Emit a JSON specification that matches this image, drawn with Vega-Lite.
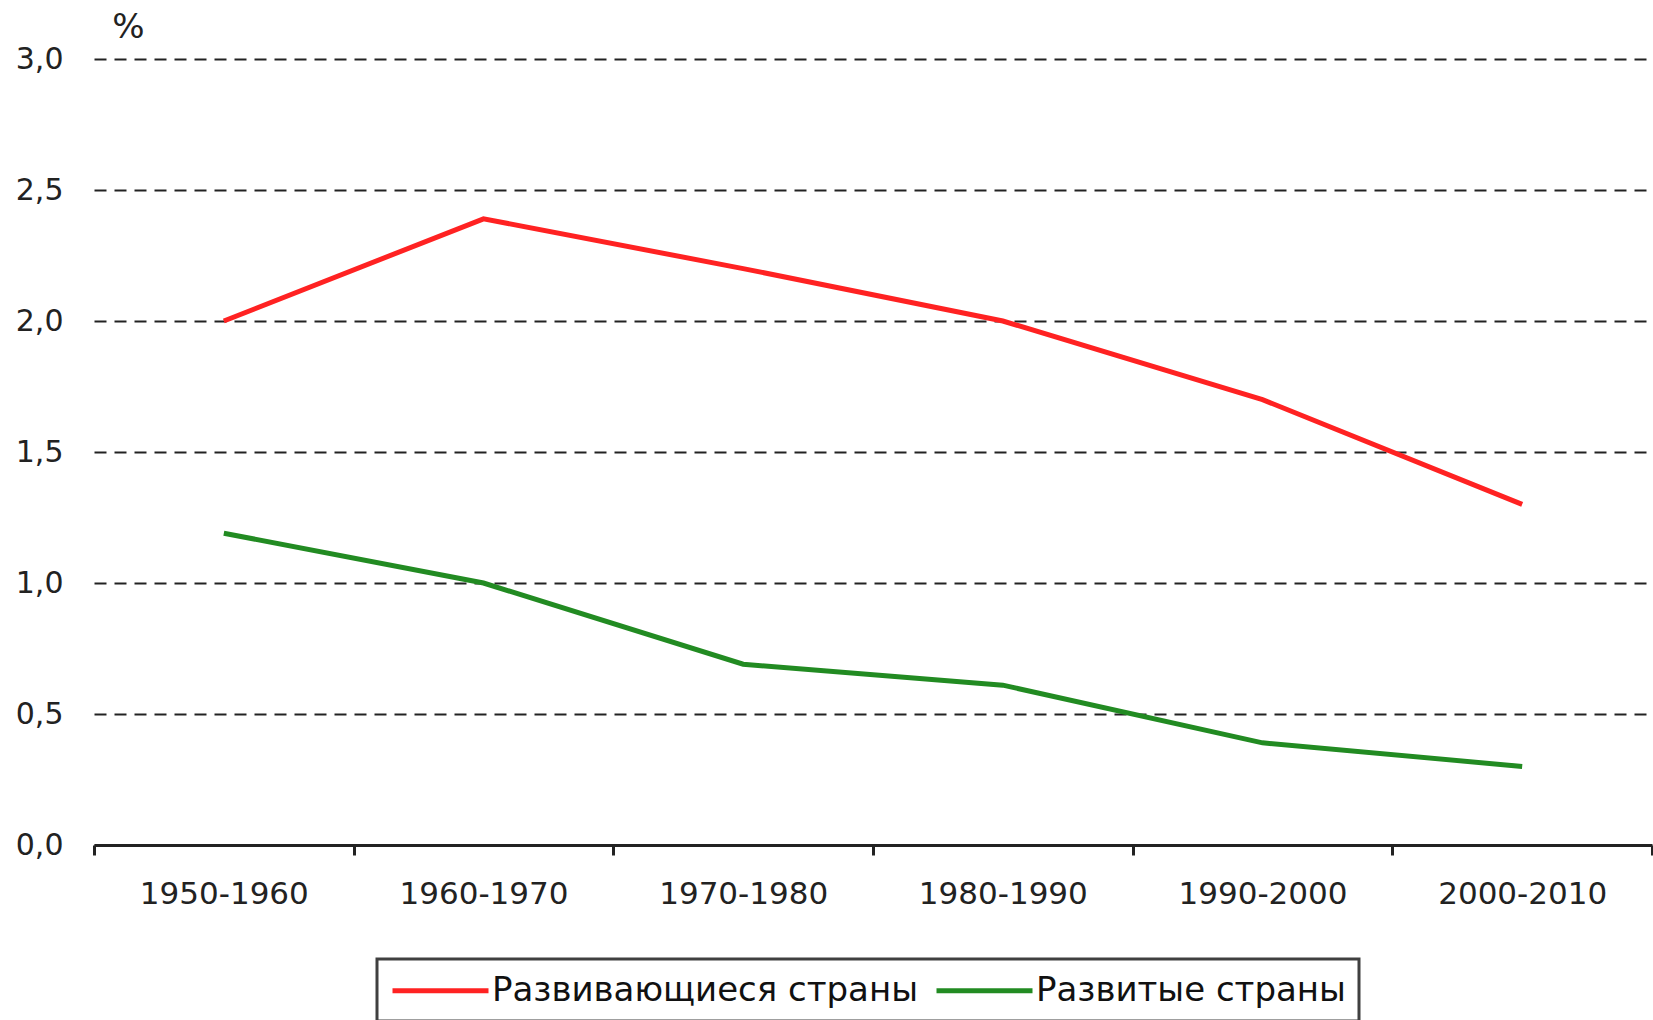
{
  "$schema": "https://vega.github.io/schema/vega-lite/v6.json",
  "autosize": {"type": "none"},
  "padding": {"left": 94, "top": 59, "right": 1, "bottom": 175},
  "width": 1558,
  "height": 786,
  "background": "white",
  "config": {"view": {"stroke": null}},
  "data": {
    "values": [
      {"period": "1950-1960", "series": "Развивающиеся страны", "value": 2.0},
      {"period": "1960-1970", "series": "Развивающиеся страны", "value": 2.39},
      {"period": "1970-1980", "series": "Развивающиеся страны", "value": 2.2},
      {"period": "1980-1990", "series": "Развивающиеся страны", "value": 2.0},
      {"period": "1990-2000", "series": "Развивающиеся страны", "value": 1.7},
      {"period": "2000-2010", "series": "Развивающиеся страны", "value": 1.3},
      {"period": "1950-1960", "series": "Развитые страны", "value": 1.19},
      {"period": "1960-1970", "series": "Развитые страны", "value": 1.0},
      {"period": "1970-1980", "series": "Развитые страны", "value": 0.69},
      {"period": "1980-1990", "series": "Развитые страны", "value": 0.61},
      {"period": "1990-2000", "series": "Развитые страны", "value": 0.39},
      {"period": "2000-2010", "series": "Развитые страны", "value": 0.3}
    ]
  },
  "mark": {"type": "line", "strokeWidth": 5},
  "encoding": {
    "x": {
      "field": "period",
      "type": "nominal",
      "sort": null,
      "scale": {"paddingInner": 0, "paddingOuter": 0},
      "axis": {
        "title": null,
        "labelAngle": 0,
        "tickBand": "extent",
        "domainColor": "#222222",
        "domainWidth": 3,
        "tickColor": "#222222",
        "tickWidth": 3,
        "tickSize": 10,
        "labelPadding": 24,
        "labelFont": "DejaVu Sans",
        "labelFontSize": 31,
        "labelColor": "#222222",
        "grid": false
      }
    },
    "y": {
      "field": "value",
      "type": "quantitative",
      "scale": {"domain": [0, 3], "nice": false},
      "axis": {
        "values": [0, 0.5, 1, 1.5, 2, 2.5, 3],
        "domain": false,
        "ticks": false,
        "tickSize": 0,
        "grid": true,
        "gridDash": [12, 8],
        "gridColor": "#222222",
        "gridWidth": 2,
        "labelExpr": "replace(format(datum.value, '.1f'), '.', ',')",
        "labelPadding": 31,
        "labelFont": "DejaVu Sans",
        "labelFontSize": 30,
        "labelColor": "#222222",
        "title": "%",
        "titleAngle": 0,
        "titleAlign": "center",
        "titleBaseline": "middle",
        "titleX": 34,
        "titleY": -32,
        "titleFont": "DejaVu Sans",
        "titleFontSize": 34,
        "titleFontWeight": "normal",
        "titleColor": "#222222"
      }
    },
    "color": {
      "field": "series",
      "type": "nominal",
      "scale": {
        "domain": ["Развивающиеся страны", "Развитые страны"],
        "range": ["#ff2222", "#228b22"]
      },
      "legend": {
        "title": null,
        "orient": "none",
        "direction": "horizontal",
        "legendX": 283,
        "legendY": 900,
        "padding": 13,
        "strokeColor": "#404040",
        "fillColor": "white",
        "symbolType": "M-1,0H5",
        "symbolSize": 1024,
        "symbolStrokeWidth": 5,
        "symbolFillColor": "transparent",
        "labelOffset": 65,
        "columnPadding": 7,
        "labelFont": "DejaVu Sans",
        "labelFontSize": 34,
        "labelColor": "#111111",
        "labelLimit": 0,
        "encode": {"legend": {"update": {"strokeWidth": {"value": 3}}}}
      }
    }
  }
}
